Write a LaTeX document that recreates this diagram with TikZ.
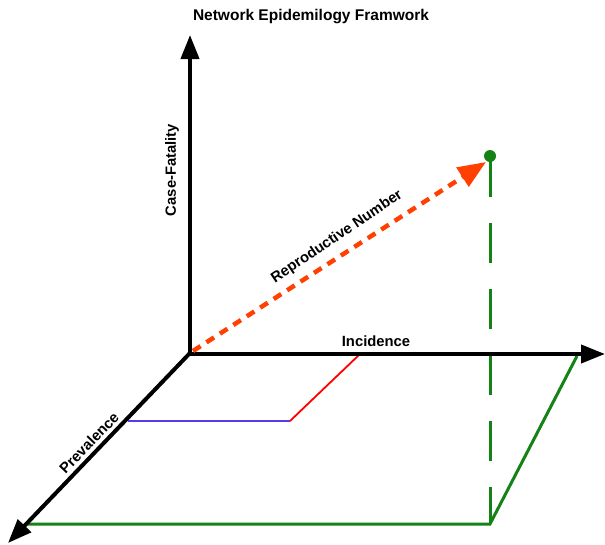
\documentclass[tikz,border=0pt]{standalone}
\usepackage{fontspec}
\setmainfont{Liberation Sans}
\usetikzlibrary{arrows.meta}
\definecolor{axisgreen}{RGB}{20,130,20}
\definecolor{rnred}{RGB}{255,64,0}
\definecolor{prevblue}{RGB}{85,60,235}
\begin{document}
\begin{tikzpicture}[x=1pt,y=-1pt,
  lbl/.style={font=\bfseries\fontsize{14.8}{17}\selectfont, inner sep=0pt},
  axisline/.style={line width=4pt,-{Triangle[length=24pt,width=18pt]}},
  greenline/.style={axisgreen,line width=3pt},
  thinline/.style={line width=1.8pt}]
\useasboundingbox (0,0) rectangle (605,544);
\coordinate (O) at (190,353);
\coordinate (Ob) at (188,354);
\coordinate (Zt) at (190,35);
\coordinate (Xt) at (605,354);
\coordinate (Yt) at (8,543);
\coordinate (G1) at (28,524);
\coordinate (G2) at (490,524);
\coordinate (G3) at (577,356);
\coordinate (Gtop) at (490,157);
\coordinate (B1) at (128,421);
\coordinate (B2) at (290,421);
\coordinate (R2) at (360,354);
\coordinate (Rs) at (193,351);
\coordinate (Rt) at (486,162);
% base parallelogram
\draw[greenline] (G1) -- (G2) -- (G3);
\draw[greenline, dash pattern=on 40pt off 26pt] (Gtop) -- (G2);
\fill[axisgreen] (490,156) circle (6pt) node (P) {};
% inner lines
\draw[thinline, prevblue] (B1) -- (B2);
\draw[thinline, red] (B2) -- (R2);
% axes
\draw[axisline] (O) -- (Zt);
\draw[axisline] (Ob) -- (Xt);
\draw[axisline] (O) -- (Yt);
% reproductive number arrow
\draw[rnred, line width=4.5pt, dash pattern=on 9pt off 7pt, -{Triangle[length=28pt,width=22pt]}] (Rs) -- (Rt);
% labels
\node[lbl, font=\bfseries\fontsize{15.5}{18}\selectfont] (title) at (311,17) {Network Epidemilogy Framwork};
\node[lbl, rotate=90] (cf) at (172,170) {Case-Fatality};
\node[lbl] (inc) at (376,341) {Incidence};
\node[lbl, rotate=34] (rn) at (337,237) {Reproductive Number};
\node[lbl, rotate=46] (prev) at (89,443) {Prevalence};
\end{tikzpicture}
\end{document}
